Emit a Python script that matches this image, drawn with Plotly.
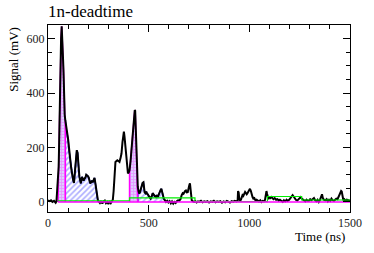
import numpy as np
import plotly.graph_objects as go

# ---- data ----
time_ns = [0, 8, 15, 22, 30, 38, 42, 46, 50, 53, 55, 58, 60, 63, 65, 68, 70, 72, 75, 77, 80, 83, 86,
           91, 96, 100, 104, 108, 112, 116, 120, 125, 129, 133, 137, 140, 143, 147, 150, 153, 156, 160,
           163, 166, 169, 173, 177, 181, 186, 190, 194, 198, 202, 206, 210, 214, 218, 222, 226, 231,
           235, 238, 242, 245, 248, 252, 258, 264, 270, 276, 282, 288, 294, 300, 306, 312, 318, 322,
           326, 331, 335, 340, 344, 350, 355, 360, 365, 370, 374, 377, 380, 383, 386, 389, 393, 397,
           401, 405, 410, 414, 417, 421, 425, 428, 431, 433, 436, 438, 441, 444, 446, 450, 453, 457,
           460, 463, 467, 470, 474, 477, 480, 484, 488, 492, 496, 500, 505, 510, 515, 520, 524, 528,
           532, 536, 540, 545, 550, 555, 560, 563, 567, 571, 575, 580, 586, 592, 598, 604, 610, 616,
           622, 628, 634, 640, 646, 652, 658, 664, 669, 673, 677, 681, 685, 689, 694, 698, 702, 705,
           708, 711, 714, 720, 726, 732, 738, 745, 752, 760, 768, 776, 784, 792, 800, 808, 816, 824,
           832, 840, 848, 856, 864, 872, 880, 888, 896, 904, 912, 920, 928, 936, 942, 944, 947, 950,
           954, 958, 962, 966, 970, 975, 979, 983, 987, 990, 994, 998, 1003, 1007, 1011, 1016, 1020,
           1025, 1030, 1036, 1042, 1048, 1054, 1060, 1066, 1072, 1078, 1082, 1085, 1088, 1091, 1095,
           1100, 1105, 1109, 1114, 1120, 1126, 1133, 1140, 1146, 1152, 1158, 1166, 1172, 1178, 1185,
           1190, 1198, 1204, 1210, 1215, 1220, 1226, 1231, 1238, 1244, 1250, 1255, 1260, 1266, 1272,
           1278, 1284, 1290, 1296, 1302, 1308, 1314, 1321, 1327, 1333, 1339, 1345, 1350, 1356, 1361,
           1365, 1370, 1378, 1384, 1390, 1396, 1402, 1408, 1414, 1420, 1426, 1432, 1438, 1443, 1448,
           1452, 1456, 1459, 1463, 1467, 1472, 1478, 1484, 1490, 1496, 1500]
signal_mv = [5, 3, 6, 0, 4, -3, 2, 40, 90, 130, 200, 340, 480, 560, 600, 645, 620, 590, 520, 480, 370, 320, 300,
             265, 250, 230, 190, 165, 145, 120, 95, 80, 70, 100, 130, 175, 190, 180, 160, 120, 92, 75,
             68, 80, 92, 85, 78, 85, 90, 100, 98, 95, 90, 78, 68, 72, 78, 72, 80, 88,
             70, 55, 35, 18, 6, 2, -4, 3, -6, 2, 5, -5, 0, -8, 3, -4, 2, 8,
             40, 110, 147, 150, 153, 150, 147, 160, 178, 220, 250, 258, 240, 215, 185, 165, 130, 105,
             108, 116, 150, 190, 214, 250, 288, 315, 337, 335, 263, 210, 153, 100, 55, 38, 31, 36,
             45, 50, 60, 70, 72, 50, 35, 32, 38, 30, 28, 22, 15, 12, 20, 32, 28, 22,
             20, 18, 25, 18, 30, 40, 45, 48, 40, 25, 12, 5, 0, 4, -2, 3, -5, 2,
             -6, 0, -4, 3, 6, 5, 10, 25, 32, 30, 37, 40, 42, 35, 36, 55, 62, 68,
             50, 20, 6, 2, 0, 3, -2, 2, 0, 4, -1, 2, 0, 3, -2, 2, 0, 4,
             -1, 2, 0, 3, -3, 2, -1, 4, 0, -2, 3, 1, 4, 2, 5, 40, 35, 10,
             6, 8, 20, 25, 22, 30, 37, 33, 28, 31, 38, 45, 48, 42, 28, 18, 12,
             14, 6, 8, 5, 2, 6, 0, 4, 2, 8, 25, 40, 30, 12, 10,
             20, 15, 18, 12, 10, 14, 8, 10, 5, 8, 3, 0, 6, 2, 8,
             4, 8, 15, 22, 25, 20, 12, 8, 5, 10, 15, 18, 12, 8, 6,
             2, 8, 4, 4, 10, 6, 9, 14, 6, 2, 8, 0, 6, 15, 28,
             15, 8, 6, 10, 2, 8, 4, 12, 6, 4, 8, 12, 10, 18, 28,
             35, 40, 38, 20, 6, 10, 4, 8, 6, 3, 4]

peak_windows = [(50, 86), (405, 446)]      # magenta checkered regions
tail_windows = [(86, 248), (446, 586)]     # blue hatched regions
baseline_edges = [50, 405, 730, 1090, 1260, 1500]
baseline_levels = [4, 15, 1, 20, 7, 7]
zero_line_t = [50, 1500]
zero_line_v = [0, 0]

x_ticks = [0, 500, 1000, 1500]
y_ticks = [0, 200, 400, 600]

t = np.array(time_ns, dtype=float)
v = np.array(signal_mv, dtype=float)

FONT = "Liberation Serif, Times New Roman, Times, serif"
fig = go.Figure()


def region_trace(lo, hi, line_color, pattern):
    m = (t >= lo) & (t <= hi)
    xs = np.concatenate([[lo], t[m], [hi]])
    ys = np.concatenate([[0], v[m], [0]])
    return go.Scatter(x=xs, y=ys, mode="lines", fill="toself", fillcolor="rgba(0,0,0,0)",
                      fillpattern=pattern, line=dict(color=line_color, width=1.5),
                      hoverinfo="skip", showlegend=False)


for lo, hi in tail_windows:
    fig.add_trace(region_trace(lo, hi, "#2020d0",
                               dict(shape="/", fgcolor="#5a5aff", bgcolor="white", size=4, solidity=0.4)))
for lo, hi in peak_windows:
    fig.add_trace(region_trace(lo, hi, "#ff00ff",
                               dict(shape="+", fgcolor="#f060ff", bgcolor="#ddd0ff", size=3, solidity=0.45)))

fig.add_trace(go.Scatter(x=t, y=v, mode="lines", line=dict(color="black", width=2),
                         showlegend=False))

fig.add_trace(go.Scatter(x=baseline_edges, y=baseline_levels, mode="lines", line_shape="hv",
                         line=dict(color="#00ee00", width=1.2), showlegend=False))
fig.add_trace(go.Scatter(x=zero_line_t, y=zero_line_v, mode="lines",
                         line=dict(color="#ff00ff", width=1.5), showlegend=False))

axis_common = dict(showgrid=False, zeroline=False, showline=True, linecolor="black", linewidth=1,
                   mirror="ticks", ticks="inside", tickcolor="black", ticklen=7,
                   tickfont=dict(family=FONT, size=12, color="#222222"))

fig.update_xaxes(range=[0, 1500], tickvals=x_ticks, ticktext=[str(x) for x in x_ticks],
                 minor=dict(dtick=100, ticklen=4, ticks="inside", tickcolor="black"),
                 **axis_common)
fig.update_yaxes(range=[-37, 650], tickvals=y_ticks, ticktext=[str(y) for y in y_ticks],
                 minor=dict(dtick=50, ticklen=4, ticks="inside", tickcolor="black"),
                 **axis_common)

fig.update_layout(
    width=374, height=253,
    margin=dict(l=48, r=19, t=25, b=41),
    paper_bgcolor="white", plot_bgcolor="white",
    font=dict(family=FONT, color="black"),
    annotations=[
        dict(text="1n-deadtime", xref="paper", yref="paper", x=-0.005, y=1.07,
             xanchor="left", yanchor="middle", showarrow=False,
             font=dict(family=FONT, size=17, color="black")),
        dict(text="Signal (mV)", xref="paper", yref="paper", x=-0.115, y=1.0,
             xanchor="center", yanchor="top", textangle=-90, showarrow=False,
             font=dict(family=FONT, size=13, color="black")),
        dict(text="Time (ns)", xref="paper", yref="paper", x=0.99, y=-0.13,
             xanchor="right", yanchor="middle", showarrow=False,
             font=dict(family=FONT, size=13, color="black")),
    ],
)

fig.write_html("out.html", config={"displayModeBar": False},
               post_script="document.body.style.margin='0';document.body.style.overflow='hidden';")
